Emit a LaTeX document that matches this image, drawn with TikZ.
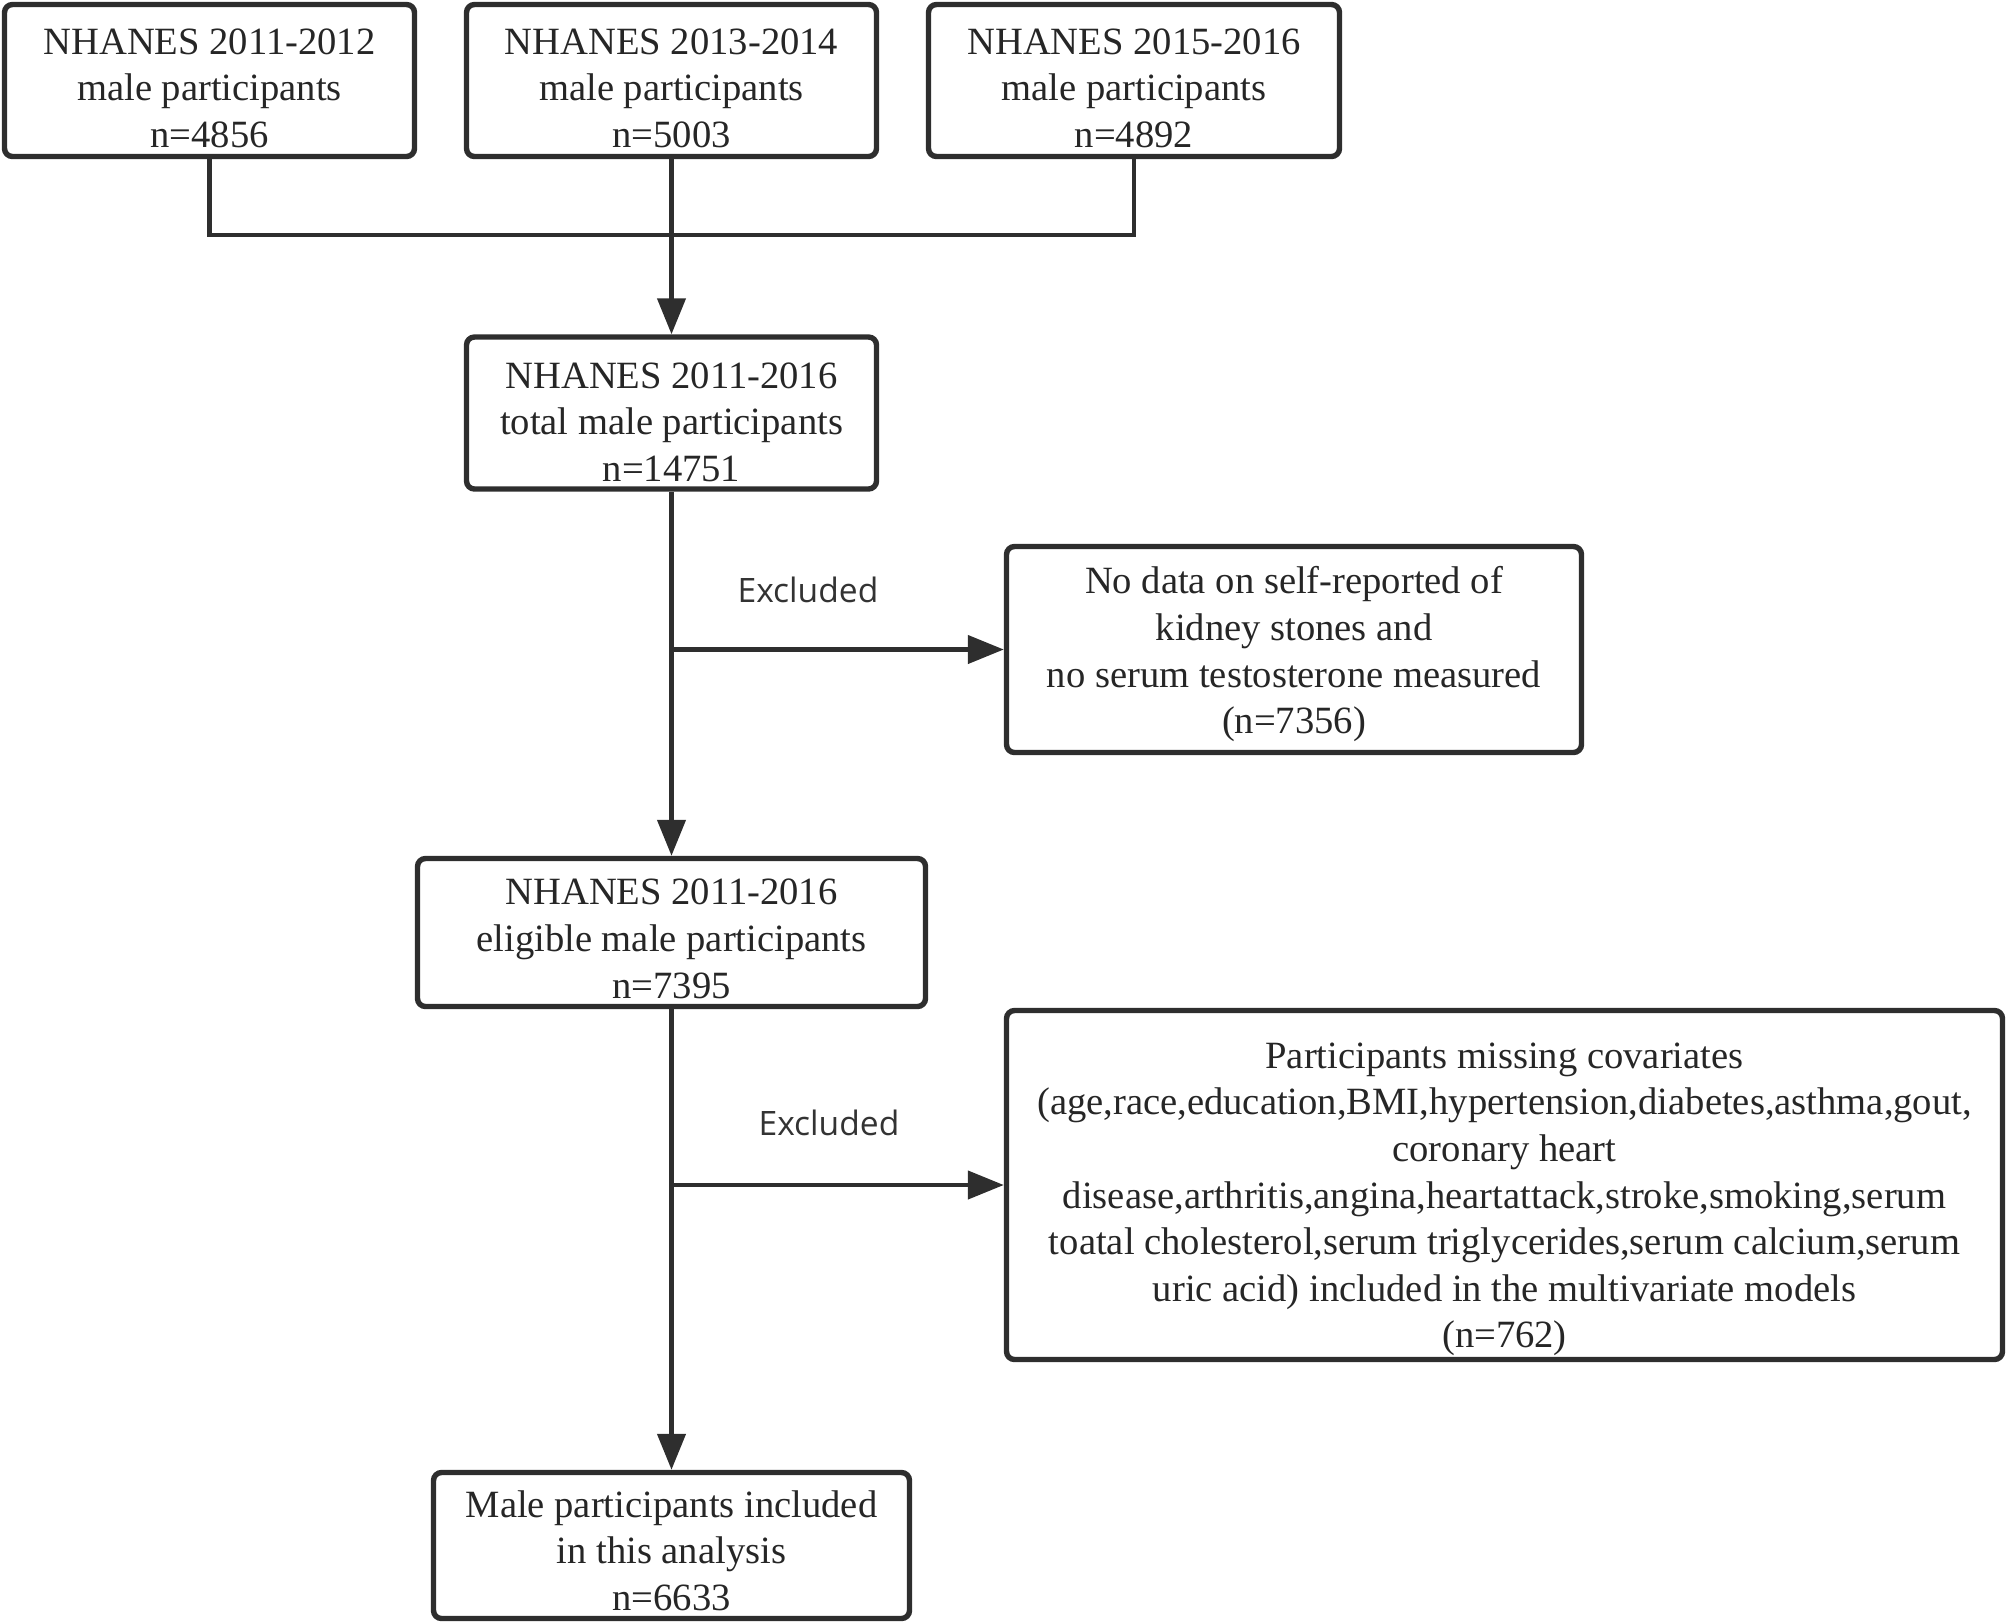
\documentclass[tikz,border=0pt]{standalone}
\usepackage{fontspec}
\setmainfont{Liberation Serif}
\newfontfamily\labelfont{Open Sans}
\usetikzlibrary{arrows.meta}
\newcommand{\topgap}[1]{\rule{0pt}{#1}}

\begin{document}
\begin{tikzpicture}[x=1pt, y=1pt,
        flowbox/.style={draw=black!82, line width=2.7pt, rounded corners=4pt, align=center,
            inner sep=0pt, text=black!85, font=\fontsize{19.3}{23.3}\selectfont},
        flowline/.style={draw=black!82, line width=2.2pt},
        flowarrow/.style={flowline, -{Triangle[length=18pt, width=14pt]}},
        exlabel/.style={text=black!80, font=\labelfont\fontsize{16.8}{20}\selectfont}]
        \useasboundingbox (0, 0) rectangle (1004, -811.5);

        % survey cycles
        \node[flowbox, minimum width=205pt, minimum height=76pt] (cyc1) at (104.75, -40.25)
            {\topgap{20.4pt}NHANES 2011-2012\\male participants\\n=4856};
        \node[flowbox, minimum width=205pt, minimum height=76pt] (cyc2) at (335.75, -40.25)
            {\topgap{20.4pt}NHANES 2013-2014\\male participants\\n=5003};
        \node[flowbox, minimum width=205.5pt, minimum height=76pt] (cyc3) at (567, -40.25)
            {\topgap{20.4pt}NHANES 2015-2016\\male participants\\n=4892};

        \node[flowbox, minimum width=205pt, minimum height=76pt] (total) at (335.75, -206.5)
            {\topgap{21.8pt}NHANES 2011-2016\\total male participants\\n=14751};
        \node[flowbox, minimum width=287.5pt, minimum height=103pt] (excl1) at (647, -324.75)
            {\topgap{18.4pt}No data on self-reported of\\kidney stones and\\no serum testosterone measured\\(n=7356)};
        \node[flowbox, minimum width=254pt, minimum height=74pt] (elig) at (335.75, -466.25)
            {\topgap{19.2pt}NHANES 2011-2016\\eligible male participants\\n=7395};
        \node[flowbox, minimum width=498pt, minimum height=174.5pt] (excl2) at (752.25, -592.5)
            {\topgap{27.2pt}Participants missing covariates\\
             (age,race,education,BMI,hypertension,diabetes,asthma,gout,\\
             coronary heart\\
             disease,arthritis,angina,heartattack,stroke,smoking,serum\\
             toatal cholesterol,serum triglycerides,serum calcium,serum\\
             uric acid) included in the multivariate models\\
             (n=762)};
        \node[flowbox, minimum width=238pt, minimum height=73pt] (final) at (335.75, -772.75)
            {\topgap{18.4pt}Male participants included\\in this analysis\\n=6633};

        \node[exlabel] (lab1) at (404, -295) {Excluded};
        \node[exlabel] (lab2) at (414.5, -561.5) {Excluded};

        % connectors
        \draw[flowline] (cyc1.south) -- ++(0, -38) -| (cyc3.south);
        \draw[flowarrow] (cyc2.south) -- (total.north);
        \draw[flowarrow] (total.south) -- (elig.north);
        \draw[flowarrow] (elig.south) -- (final.north);
        \coordinate (split1) at (total.south |- excl1.west);
        \coordinate (split2) at (elig.south |- excl2.west);
        \draw[flowarrow] (split1) -- (excl1.west);
        \draw[flowarrow] (split2) -- (excl2.west);
    \end{tikzpicture}
\end{document}
